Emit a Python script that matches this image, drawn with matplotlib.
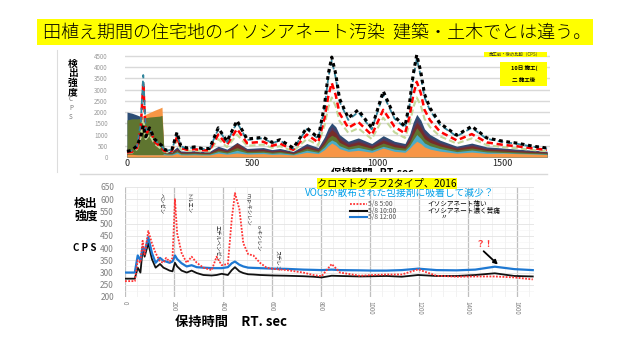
import matplotlib
matplotlib.use("Agg")
import matplotlib.pyplot as plt
from matplotlib.patches import Rectangle
from matplotlib.lines import Line2D
from matplotlib.ticker import MultipleLocator

plt.rcParams['font.family'] = ['Noto Sans CJK JP', 'DejaVu Sans']

# ---- upper chromatogram (many runs, areas + dashed lines) ----
XT = [0, 20, 40, 55, 65, 75, 90, 110, 130, 140, 148, 160, 180, 200, 215, 240, 270, 300,
      330, 365, 400, 440, 480, 545, 580, 612, 665, 719, 765, 790, 805, 819, 835, 850,
      885, 925, 979, 1025, 1070, 1112, 1130, 1145, 1159, 1175, 1190, 1212, 1252, 1319,
      1379, 1439, 1505, 1559, 1625, 1680]
blk = [250, 300, 500, 900, 1400, 900, 1300, 800, 600, 500, 350, 300, 350, 1100, 500, 400,
       450, 380, 380, 1300, 700, 1620, 800, 880, 650, 770, 400, 1300, 850, 2300, 3700, 4450,
       3700, 2600, 1740, 2100, 1290, 2930, 1800, 1370, 2400, 3700, 4550, 3800, 2800, 2180,
       1500, 970, 1370, 850, 700, 620, 480, 400]
teal = [240, 285, 475, 1500, 3650, 1200, 1250, 760, 570, 475, 330, 285, 330, 1050, 475, 380,
        430, 360, 360, 1240, 665, 1540, 760, 840, 620, 730, 380, 1240, 810, 2190, 3520, 4300,
        3520, 2470, 1650, 2000, 1230, 2780, 1710, 1300, 2280, 3520, 4380, 3610, 2660, 2070,
        1430, 920, 1300, 810, 665, 590, 455, 380]
red = [200, 230, 400, 1300, 3300, 1000, 1290, 700, 480, 400, 280, 240, 280, 900, 400, 320,
       350, 300, 300, 1000, 540, 1250, 620, 680, 500, 600, 320, 1000, 650, 1720, 2700, 3300,
       2750, 1950, 1300, 1560, 980, 2100, 1350, 1050, 1800, 2750, 3350, 2850, 2100, 1640,
       1130, 740, 1020, 650, 540, 480, 380, 320]
olive = [180, 200, 350, 900, 1800, 800, 1000, 600, 420, 350, 250, 210, 240, 750, 330, 270,
         290, 250, 250, 800, 440, 1000, 500, 550, 410, 480, 260, 800, 530, 1400, 2200, 2650,
         2250, 1600, 1080, 1280, 800, 1750, 1100, 850, 1450, 2200, 2650, 2300, 1700, 1330,
         920, 600, 830, 530, 440, 390, 310, 260]
a_dblue = [2000, 1950, 1870, 1800, 1780, 1700, 1700, 1650, 1600, 1600, 300, 250, 260, 450,
           270, 260, 280, 250, 250, 480, 350, 650, 380, 420, 330, 380, 250, 600, 420, 900,
           1300, 1520, 1350, 1000, 700, 850, 600, 950, 700, 600, 1000, 1550, 1900, 1650,
           1250, 1000, 750, 480, 620, 450, 400, 350, 300, 260]
a_orange2 = [0, 0, 0, 0, 1850, 1900, 1980, 2080, 2170, 2220, 0, 0, 0, 0, 0, 0, 0, 0, 0, 0,
             0, 0, 0, 0, 0, 0, 0, 0, 0, 0, 0, 0, 0, 0, 0, 0, 0, 0, 0, 0, 0, 0, 0, 0, 0, 0,
             0, 0, 0, 0, 0, 0, 0, 0]
a_purple = [400, 400, 400, 600, 900, 600, 700, 500, 400, 400, 270, 225, 235, 400, 245, 235,
            250, 225, 225, 430, 315, 590, 340, 380, 300, 340, 225, 540, 380, 810, 1170, 1370,
            1215, 900, 630, 765, 540, 855, 630, 540, 900, 1400, 1720, 1480, 1120, 900, 675,
            430, 560, 405, 360, 315, 270, 235]
a_dred = [350, 350, 350, 500, 800, 500, 600, 450, 350, 350, 240, 200, 210, 360, 215, 210,
          225, 200, 200, 385, 280, 620, 305, 335, 265, 305, 200, 480, 335, 720, 1040, 1220,
          1080, 800, 560, 680, 480, 760, 560, 480, 800, 1240, 1550, 1320, 1000, 800, 600,
          385, 500, 360, 320, 280, 240, 210]
a_green = [1650, 1700, 1700, 1720, 1750, 1750, 1780, 1800, 1820, 1850, 200, 160, 170, 290,
           175, 170, 180, 160, 160, 310, 230, 420, 250, 270, 215, 250, 160, 390, 270, 580,
           850, 970, 880, 650, 455, 550, 390, 620, 455, 390, 650, 1000, 1300, 1070, 810, 650,
           490, 310, 400, 290, 260, 230, 195, 170]
a_lblue = [100, 100, 100, 100, 100, 100, 100, 100, 100, 100, 150, 125, 130, 225, 135, 130,
           140, 125, 125, 240, 175, 300, 190, 210, 165, 190, 125, 300, 210, 450, 650, 760,
           675, 500, 350, 425, 300, 475, 350, 300, 500, 775, 1000, 825, 625, 500, 375, 240,
           310, 225, 200, 175, 150, 130]
a_orange = [120, 120, 100, 100, 100, 100, 100, 100, 100, 100, 100, 90, 90, 160, 95, 90, 100,
            90, 90, 170, 120, 180, 130, 150, 115, 130, 90, 210, 150, 330, 500, 620, 520, 370,
            250, 300, 210, 400, 250, 210, 380, 560, 700, 600, 450, 350, 260, 170, 220, 160,
            170, 150, 130, 110]
top_yticks = [0, 500, 1000, 1500, 2000, 2500, 3000, 3500, 4000, 4500]
top_xticks = [0, 500, 1000, 1500]

# ---- lower chromatogram (3 runs on 5/8) ----
XB = [0, 40, 52, 63, 72, 80, 95, 110, 125, 143, 157, 168, 182, 194, 204, 213, 231, 252, 272,
      293, 320, 354, 374, 395, 420, 436, 449, 467, 483, 503, 524, 551, 578, 605, 660, 728,
      769, 803, 844, 878, 959, 1014, 1068, 1130, 1197, 1272, 1354, 1430, 1510, 1590, 1665]
run_0500 = [265, 265, 350, 340, 430, 370, 470, 420, 380, 345, 340, 360, 345, 360, 600, 460,
            380, 340, 365, 340, 320, 310, 365, 330, 335, 520, 625, 560, 420, 375, 370, 340,
            320, 315, 310, 300, 290, 285, 335, 300, 287, 290, 292, 292, 313, 287, 283, 284,
            284, 280, 272]
run_1000 = [275, 275, 320, 300, 395, 365, 420, 355, 320, 335, 320, 315, 308, 305, 340, 325,
            308, 300, 308, 298, 290, 288, 290, 295, 290, 310, 322, 305, 298, 293, 292, 290,
            289, 288, 287, 285, 283, 280, 287, 286, 284, 285, 286, 283, 290, 286, 286, 290,
            297, 286, 284]
run_1200 = [300, 300, 370, 350, 405, 385, 445, 380, 340, 360, 348, 345, 340, 345, 370, 355,
            338, 325, 330, 322, 320, 318, 318, 318, 322, 338, 345, 332, 325, 320, 319, 318,
            317, 316, 315, 312, 311, 310, 312, 310, 309, 308, 308, 310, 316, 310, 309, 312,
            324, 314, 310]
run_labels = ["5/8 5:00", "5/8 10:00", "5/8 12:00"]
run_notes = ["イソシアネート薄い", "イソシアネート濃く苦痛", "〃"]
peak_names = ["ベンゼン", "トルエン", "エチルベンゼン", "m,p-キシレン", "o-キシレン", "スチレン"]
peak_rt = [143, 257, 375, 502, 543, 620]
peak_top = [625, 625, 495, 625, 495, 392]

W, H = 640, 360


def fx(px):
    return px / W


def fy(py):
    return 1 - py / H


fig = plt.figure(figsize=(6.4, 3.6), dpi=100)
fig.patch.set_facecolor("white")

# title band
fig.patches.append(Rectangle((fx(37), fy(45)), 556 / W, 26 / H, transform=fig.transFigure,
                             facecolor="#FFFF00", edgecolor="none", zorder=1))
fig.text(fx(43), fy(32), "田植え期間の住宅地のイソシアネート汚染  建築・土木でとは違う。",
         fontsize=13, va="center", ha="left", color="black", fontweight="light")

# ---------------- upper panel ----------------
ax1 = fig.add_axes([fx(124.5), fy(157), 425 / W, 104.4 / H])
ax1.set_xlim(-10, 1690)
ax1.set_ylim(0, 4650)
area_cols = ["#2C4D75", "#F79646", "#4D3B62", "#772C2A", "#5F7530", "#4BACC6", "#F79646"]
areas = [a_dblue, a_orange2, a_purple, a_dred, a_green, a_lblue, a_orange]
for vals, c in zip(areas, area_cols):
    ax1.fill_between(XT, 0, vals, color=c, lw=0, zorder=2)
ax1.plot(XT, olive, color="#C4D79B", lw=1.5, ls=(0, (3, 1.5)), zorder=3)
ax1.plot(XT, red, color="#FF0000", lw=1.8, ls=(0, (2.5, 1.5)), zorder=4)
ax1.plot(XT, teal, color="#31859C", lw=1.3, ls=(0, (3, 2)), zorder=5)
ax1.plot(XT, blk, color="black", lw=2.2, ls=(0, (1.2, 1.2)), zorder=6)
ax1.set_yticks(top_yticks)
ax1.set_xticks(top_xticks)
ax1.set_yticklabels([str(v) for v in top_yticks], fontsize=4.5, color="#9A9A9A")
ax1.set_xticklabels([str(v) for v in top_xticks], fontsize=6.5, color="#222222")
ax1.tick_params(length=0, axis="y", pad=12)
ax1.tick_params(length=0, axis="x", pad=1.5)
ax1.grid(axis="y", color="#D9D9D9", lw=1.0, zorder=0)
ax1.set_axisbelow(True)
for s in ax1.spines.values():
    s.set_visible(False)

fig.text(fx(73), fy(78), "検\n出\n強\n度", fontsize=7, fontweight="bold", ha="center",
         va="center", linespacing=0.95)
fig.text(fx(71), fy(108), "C\nP\nS", fontsize=4.5, color="#777777", ha="center",
         va="center", linespacing=1.1)
fig.add_artist(Line2D([fx(57), fx(57)], [fy(50), fy(172)], color="#DDDDDD", lw=0.8))

# small yellow legend tags (top right)
fig.patches.append(Rectangle((fx(484), fy(57)), 63 / W, 5 / H, transform=fig.transFigure,
                             facecolor="#FFFF00", edgecolor="none"))
fig.text(fx(515), fy(54.5), "施工前・後の比較（CPS）", fontsize=3.2, ha="center", va="center",
         color="#333333")
fig.patches.append(Rectangle((fx(500), fy(86)), 47 / W, 24 / H, transform=fig.transFigure,
                             facecolor="#FFFF00", edgecolor="none"))
fig.text(fx(524), fy(68), "10日 施工(", fontsize=4, ha="center", va="center",
         fontweight="bold")
fig.text(fx(524), fy(80), "二 施工後", fontsize=4, ha="center", va="center",
         fontweight="bold")

fig.text(fx(372), fy(167.5), "保持時間   RT.sec", fontsize=7.5, fontweight="bold",
         ha="center", va="top", zorder=3)
fig.patches.append(Rectangle((fx(300), fy(180)), 140 / W, 8.5 / H, transform=fig.transFigure,
                             facecolor="white", edgecolor="none", zorder=3.5))
fig.add_artist(Line2D([fx(80), fx(547)], [fy(174), fy(174)], color="#D9D9D9", lw=1.0,
                      zorder=4))

# ---------------- lower panel ----------------
ax2 = fig.add_axes([fx(125), fy(297), 409 / W, 110 / H])
ax2.set_xlim(0, 1670)
ax2.set_ylim(200, 650)
ax2.xaxis.set_major_locator(MultipleLocator(200))
ax2.xaxis.set_minor_locator(MultipleLocator(50))
ax2.yaxis.set_major_locator(MultipleLocator(50))
ax2.yaxis.set_minor_locator(MultipleLocator(25))
ax2.grid(which="major", axis="x", color="#BFBFBF", lw=0.9)
ax2.grid(which="minor", axis="x", color="#EDEDED", lw=0.5)
ax2.grid(which="major", axis="y", color="#E3E3E3", lw=0.6)
ax2.grid(which="minor", axis="y", color="#F3F3F3", lw=0.4)
ax2.set_axisbelow(True)
for s in ax2.spines.values():
    s.set_visible(False)
ax2.tick_params(which="both", length=0)
ax2.tick_params(axis="y", labelsize=6, labelcolor="#808080", pad=8)
ax2.tick_params(axis="x", labelsize=4.5, labelcolor="#808080", pad=3, labelrotation=-90)

ax2.plot(XB, run_1000, color="#111111", lw=1.3, zorder=3)
ax2.plot(XB, run_1200, color="#1E78D2", lw=1.6, zorder=4)
ax2.plot(XB, run_0500, color="#FF3333", lw=1.3, ls=(0, (1, 0.8)), zorder=5)

for name, rt, top in zip(peak_names, peak_rt, peak_top):
    ax2.text(rt, top, name, rotation=-90, fontsize=3.8, ha="center", va="top",
             color="#222222")

ax2.text(1470, 398, "？！", color="#FF3333", fontsize=6.5, ha="center", va="bottom",
         fontweight="bold")
ax2.annotate("", xy=(1531, 325), xytext=(1456, 395),
             arrowprops=dict(arrowstyle="-|>", color="black", lw=1.3, mutation_scale=6))

fig.text(fx(387), fy(183.5), "クロマトグラフ2タイプ、2016", fontsize=7.3, ha="center",
         va="center", color="black", zorder=5,
         bbox=dict(facecolor="#FFFF00", edgecolor="none", pad=0.4))
fig.text(fx(400), fy(193), "VOCsが散布された包接剤に吸着して減少？", fontsize=7.0,
         ha="center", va="center", color="#00A0E9")

leg_styles = [dict(color="#FF3333", lw=1.3, ls=(0, (1, 0.8))),
              dict(color="#111111", lw=1.5),
              dict(color="#1E78D2", lw=1.5)]
for i, (lab, note, st) in enumerate(zip(run_labels, run_notes, leg_styles)):
    py = 204 + i * 6.6
    fig.add_artist(Line2D([fx(350), fx(367)], [fy(py), fy(py)], transform=fig.transFigure,
                          **st))
    fig.text(fx(368), fy(py), lab, fontsize=4.8, color="#555555", ha="left", va="center")
    fig.text(fx(427) if i < 2 else fx(440), fy(py), note, fontsize=4.8, color="black",
             ha="left", va="center")

fig.text(fx(86), fy(210), "検出\n強度", fontsize=8.5, fontweight="bold", ha="center",
         va="center", linespacing=1.0)
fig.text(fx(85), fy(248), "C P S", fontsize=7, fontweight="bold", ha="center", va="center")
fig.text(fx(231), fy(322), "保持時間　RT. sec", fontsize=9.5, fontweight="bold",
         ha="center", va="center")

fig.savefig("out.png", dpi=100)
plt.close(fig)
